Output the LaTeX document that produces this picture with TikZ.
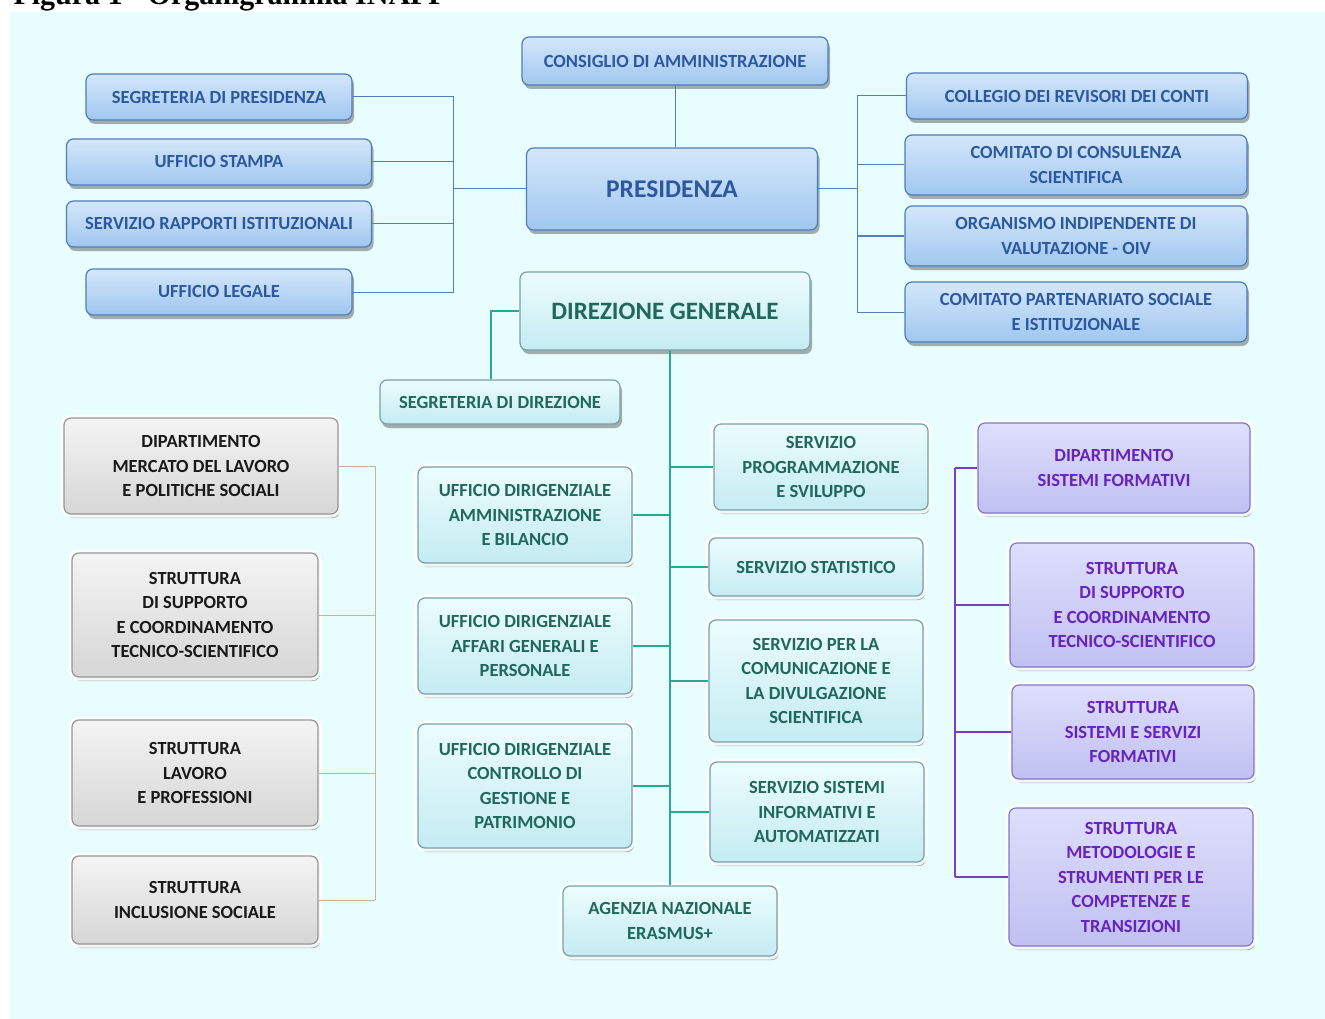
\documentclass[tikz,border=0pt]{standalone}
\usepackage{fontspec}
\setmainfont{Carlito}
\newfontfamily\titlefont{Liberation Serif}
\usetikzlibrary{shadows}

\definecolor{bgcyan}{RGB}{232,253,253}
\definecolor{bluetop}{RGB}{212,231,250}
\definecolor{bluebot}{RGB}{160,199,240}
\definecolor{blueedge}{RGB}{78,124,190}
\definecolor{bluetext}{RGB}{44,88,160}
\definecolor{cyantop}{RGB}{236,252,253}
\definecolor{cyanbot}{RGB}{196,236,242}
\definecolor{cyanedge}{RGB}{120,160,170}
\definecolor{cyantext}{RGB}{32,104,92}
\definecolor{greytop}{RGB}{244,244,244}
\definecolor{greybot}{RGB}{214,214,214}
\definecolor{greyedge}{RGB}{150,150,150}
\definecolor{purpletop}{RGB}{222,222,252}
\definecolor{purplebot}{RGB}{192,192,242}
\definecolor{purpleedge}{RGB}{128,120,200}
\definecolor{purpletext}{RGB}{104,34,190}
\definecolor{lineblue}{RGB}{80,126,190}
\definecolor{linegreen}{RGB}{40,170,146}
\definecolor{linetan}{RGB}{196,182,150}
\definecolor{linepurple}{RGB}{122,60,192}

\begin{document}
\begin{tikzpicture}[x=1pt,y=-1pt,
    box/.style={rounded corners=7pt, align=center, inner sep=0pt, line width=1.2pt,
        font=\bfseries\fontsize{18.5}{24.5}\selectfont,
        drop shadow={shadow xshift=2pt, shadow yshift=-4pt, opacity=0.45, fill=black!70}},
    halo/.style={preaction={draw=white, line width=7pt, opacity=0.9}},
    bluebox/.style={box, draw=blueedge, top color=bluetop, bottom color=bluebot, text=bluetext},
    cyanbox/.style={box, draw=cyanedge, top color=cyantop, bottom color=cyanbot, text=cyantext},
    greybox/.style={box, halo, draw=greyedge, top color=greytop, bottom color=greybot, text=black!90},
    purplebox/.style={box, halo, draw=purpleedge, top color=purpletop, bottom color=purplebot, text=purpletext},
    blueline/.style={draw=lineblue, line width=1pt},
    greenline/.style={draw=linegreen, line width=1.2pt},
    tanline/.style={draw=linetan, line width=1pt},
    purpleline/.style={draw=linepurple, line width=1.2pt}]

    \useasboundingbox (0,0) rectangle (1325,1019);
    \fill[bgcyan] (10,12) rectangle (1325,1019);
    \node[anchor=base west, font=\titlefont\bfseries\fontsize{30}{32}\selectfont] (title) at (10,5) {Figura 1 - Organigramma INAPP};

    % vertice
    \node[bluebox, minimum width=306, minimum height=48] (cda) at (675,61) {CONSIGLIO DI AMMINISTRAZIONE};
    \node[bluebox, minimum width=291, minimum height=82, font=\bfseries\fontsize{25.5}{28}\selectfont] (pres) at (672,189) {PRESIDENZA};
    \node[cyanbox, minimum width=290, minimum height=78, font=\bfseries\fontsize{25}{28}\selectfont] (dg) at (665,311) {DIREZIONE GENERALE};

    % staff presidenza
    \node[bluebox, minimum width=266, minimum height=46] (segp) at (219,97) {SEGRETERIA DI PRESIDENZA};
    \node[bluebox, minimum width=305, minimum height=46] (stampa) at (219,162) {UFFICIO STAMPA};
    \node[bluebox, minimum width=305, minimum height=46] (rapporti) at (219,224) {SERVIZIO RAPPORTI ISTITUZIONALI};
    \node[bluebox, minimum width=266, minimum height=46] (legale) at (219,292) {UFFICIO LEGALE};

    % organi
    \node[bluebox, minimum width=341, minimum height=46] (collegio) at (1077,96) {COLLEGIO DEI REVISORI DEI CONTI};
    \node[bluebox, minimum width=342, minimum height=60] (consulenza) at (1076,165) {COMITATO DI CONSULENZA\\SCIENTIFICA};
    \node[bluebox, minimum width=342, minimum height=60] (oiv) at (1076,236) {ORGANISMO INDIPENDENTE DI\\VALUTAZIONE - OIV};
    \node[bluebox, minimum width=342, minimum height=60] (partenariato) at (1076,312) {COMITATO PARTENARIATO SOCIALE\\E ISTITUZIONALE};

    % direzione generale
    \node[cyanbox, minimum width=240, minimum height=44] (segd) at (500,402) {SEGRETERIA DI DIREZIONE};
    \node[cyanbox, halo, minimum width=214, minimum height=96] (ammin) at (525,515) {UFFICIO DIRIGENZIALE\\AMMINISTRAZIONE\\E BILANCIO};
    \node[cyanbox, halo, minimum width=214, minimum height=96] (affari) at (525,646) {UFFICIO DIRIGENZIALE\\AFFARI GENERALI E\\PERSONALE};
    \node[cyanbox, halo, minimum width=214, minimum height=124] (controllo) at (525,786) {UFFICIO DIRIGENZIALE\\CONTROLLO DI\\GESTIONE E\\PATRIMONIO};
    \node[cyanbox, halo, minimum width=214, minimum height=86] (programm) at (821,467) {SERVIZIO\\PROGRAMMAZIONE\\E SVILUPPO};
    \node[cyanbox, halo, minimum width=214, minimum height=58] (statistico) at (816,567) {SERVIZIO STATISTICO};
    \node[cyanbox, halo, minimum width=214, minimum height=122] (comunicazione) at (816,681) {SERVIZIO PER LA\\COMUNICAZIONE E\\LA DIVULGAZIONE\\SCIENTIFICA};
    \node[cyanbox, halo, minimum width=214, minimum height=100] (sistinf) at (817,812) {SERVIZIO SISTEMI\\INFORMATIVI E\\AUTOMATIZZATI};
    \node[cyanbox, halo, minimum width=214, minimum height=70] (agenzia) at (670,921) {AGENZIA NAZIONALE\\ERASMUS+};

    % dipartimento mercato del lavoro
    \node[greybox, minimum width=274, minimum height=96] (dipml) at (201,466) {DIPARTIMENTO\\MERCATO DEL LAVORO\\E POLITICHE SOCIALI};
    \node[greybox, minimum width=246, minimum height=124] (strsupl) at (195,615) {STRUTTURA\\DI SUPPORTO\\E COORDINAMENTO\\TECNICO-SCIENTIFICO};
    \node[greybox, minimum width=246, minimum height=106] (strlav) at (195,773) {STRUTTURA\\LAVORO\\E PROFESSIONI};
    \node[greybox, minimum width=246, minimum height=88] (strincl) at (195,900) {STRUTTURA\\INCLUSIONE SOCIALE};

    % dipartimento sistemi formativi
    \node[purplebox, minimum width=272, minimum height=90] (dipsf) at (1114,468) {DIPARTIMENTO\\SISTEMI FORMATIVI};
    \node[purplebox, minimum width=244, minimum height=124] (strsupr) at (1132,605) {STRUTTURA\\DI SUPPORTO\\E COORDINAMENTO\\TECNICO-SCIENTIFICO};
    \node[purplebox, minimum width=242, minimum height=94] (strsis) at (1133,732) {STRUTTURA\\SISTEMI E SERVIZI\\FORMATIVI};
    \node[purplebox, minimum width=244, minimum height=138] (strmet) at (1131,877) {STRUTTURA\\METODOLOGIE E\\STRUMENTI PER LE\\COMPETENZE E\\TRANSIZIONI};

    % collegamenti
    \coordinate (lbus) at (453,189);
    \coordinate (rbus) at (857,189);
    \coordinate (gbus) at (375,0);
    \coordinate (pbus) at (955,0);

    \draw[blueline] (cda.south) -- (cda.south |- pres.north);
    \foreach \n in {segp, stampa, rapporti, legale} {
        \draw[blueline] (\n.east) -| (lbus);
    }
    \draw[blueline] (lbus) -- (pres.west);
    \foreach \n in {collegio, consulenza, oiv, partenariato} {
        \draw[blueline] (\n.west) -| (rbus);
    }
    \draw[blueline] (rbus) -- (pres.east);

    \draw[greenline] (dg.west) -| ([xshift=-9pt]segd.north);
    \draw[greenline] (dg.south -| agenzia.north) -- (agenzia.north);
    \foreach \n in {ammin, affari, controllo} {
        \draw[greenline] (\n.east) -- (\n.east -| agenzia.north);
    }
    \foreach \n in {programm, statistico, comunicazione, sistinf} {
        \draw[greenline] (\n.west) -- (\n.west -| agenzia.north);
    }

    \foreach \n in {dipml, strsupl, strlav, strincl} {
        \draw[tanline] (\n.east) -- (\n.east -| gbus);
    }
    \draw[tanline] (dipml.east -| gbus) -- (strincl.east -| gbus);

    \foreach \n in {dipsf, strsupr, strsis, strmet} {
        \draw[purpleline] (\n.west) -- (\n.west -| pbus);
    }
    \draw[purpleline] (dipsf.west -| pbus) -- (strmet.west -| pbus);
\end{tikzpicture}
\end{document}
